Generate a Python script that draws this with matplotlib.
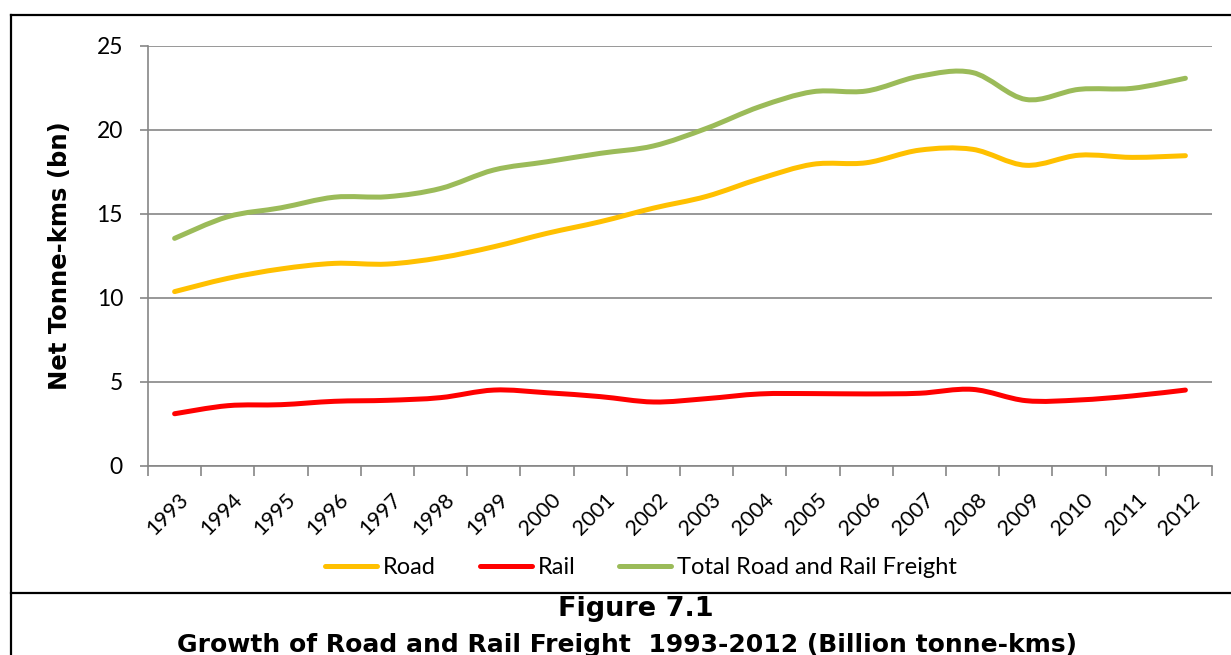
import matplotlib
matplotlib.use("Agg")
import matplotlib.pyplot as plt
from matplotlib.path import Path
from matplotlib.patches import PathPatch
from matplotlib.lines import Line2D
from matplotlib.transforms import ScaledTranslation
import numpy as np

years = [str(y) for y in range(1993, 2013)]
road = [10.38, 11.17, 11.73, 12.06, 12.02, 12.40, 13.05, 13.85, 14.54, 15.35,
        16.05, 17.10, 17.96, 18.05, 18.80, 18.85, 17.90, 18.50, 18.37, 18.47]
rail = [3.11, 3.59, 3.65, 3.85, 3.91, 4.07, 4.52, 4.36, 4.13, 3.81,
        4.01, 4.29, 4.31, 4.29, 4.33, 4.56, 3.89, 3.93, 4.17, 4.52]
total = [13.55, 14.84, 15.37, 16.00, 16.03, 16.52, 17.62, 18.11, 18.61, 19.05,
         20.10, 21.39, 22.28, 22.32, 23.20, 23.42, 21.82, 22.42, 22.48, 23.08]

series = [("Road", road, "#FFC000"),
          ("Rail", rail, "#FF0000"),
          ("Total Road and Rail Freight", total, "#9BBB59")]

W, H = 1231, 655
fig = plt.figure(figsize=(W / 100, H / 100), dpi=100)
fig.patch.set_facecolor("white")

def fx(px):
    return px / W

def fy(py):
    return 1 - py / H

ax = fig.add_axes([fx(148), fy(466), fx(1212) - fx(148), fy(46) - fy(466)])

def smooth_path(xs, ys):
    xs = np.asarray(xs, float)
    ys = np.asarray(ys, float)
    n = len(xs)
    verts = [(xs[0], ys[0])]
    codes = [Path.MOVETO]
    for i in range(n - 1):
        p0 = np.array([xs[max(i - 1, 0)], ys[max(i - 1, 0)]])
        p1 = np.array([xs[i], ys[i]])
        p2 = np.array([xs[i + 1], ys[i + 1]])
        p3 = np.array([xs[min(i + 2, n - 1)], ys[min(i + 2, n - 1)]])
        c1 = p1 + (p2 - p0) / 6.0
        c2 = p2 - (p3 - p1) / 6.0
        verts += [tuple(c1), tuple(c2), tuple(p2)]
        codes += [Path.CURVE4] * 3
    return Path(verts, codes)

x = np.arange(len(years))
handles = []
for name, vals, col in series:
    patch = PathPatch(smooth_path(x, vals), fill=False, edgecolor=col,
                      lw=3.6, capstyle="round", joinstyle="round", zorder=3)
    ax.add_patch(patch)
    handles.append(Line2D([], [], color=col, lw=3.6, solid_capstyle="round", label=name))

ax.set_xlim(-0.5, len(years) - 0.5)
ax.set_ylim(0, 25)
ax.set_yticks([0, 5, 10, 15, 20, 25])
ax.yaxis.grid(True, color="#868686", lw=1.2)
ax.set_axisbelow(True)
for s in ["top", "right"]:
    ax.spines[s].set_visible(False)
for s in ["left", "bottom"]:
    ax.spines[s].set_color("#868686")
    ax.spines[s].set_linewidth(1.2)

ax.set_xticks(np.arange(len(years) + 1) - 0.5)
ax.set_xticklabels([])
ax.set_xticks(x, minor=True)
ax.set_xticklabels(years, minor=True, rotation=45, ha="right", va="top",
                   rotation_mode="anchor", fontsize=15.5, family="Lato")
ax.tick_params(axis="x", which="major", length=7, width=1.2, color="#868686")
ax.tick_params(axis="x", which="minor", length=0, pad=10)
ax.tick_params(axis="y", length=6, width=1.2, color="#868686", labelsize=16.5, pad=12)
for lab in ax.get_yticklabels():
    lab.set_family("Lato")
shift = ScaledTranslation(0.04, -0.10, fig.dpi_scale_trans)
for lab in ax.get_xticklabels(minor=True):
    lab.set_transform(lab.get_transform() + shift)

fig.text(fx(60), fy(256), "Net Tonne-kms (bn)", rotation=90, ha="center", va="center",
         fontsize=17.5, fontweight="bold", family="DejaVu Sans")

fig.legend(handles=handles, loc="center", bbox_to_anchor=(fx(641), fy(568)), ncol=3,
           frameon=False, prop={"family": "Lato", "size": 17}, handlelength=2.2,
           handletextpad=0.25, columnspacing=1.85)

# outer frame
lk = dict(color="black", lw=1.6, transform=fig.transFigure)
fig.add_artist(Line2D([fx(11), fx(11)], [fy(15), 0], **lk))
fig.add_artist(Line2D([fx(11), 1], [fy(15), fy(15)], **lk))
fig.add_artist(Line2D([fx(11), 1], [fy(593), fy(593)], **lk))

fig.text(fx(636), fy(609), "Figure 7.1", ha="center", va="center",
         fontsize=19.5, fontweight="bold", family="DejaVu Sans")
fig.text(fx(627), fy(645), "Growth of Road and Rail Freight  1993-2012 (Billion tonne-kms)",
         ha="center", va="center", fontsize=18, fontweight="bold", family="DejaVu Sans")

fig.savefig("out.png", dpi=100, facecolor="white")
